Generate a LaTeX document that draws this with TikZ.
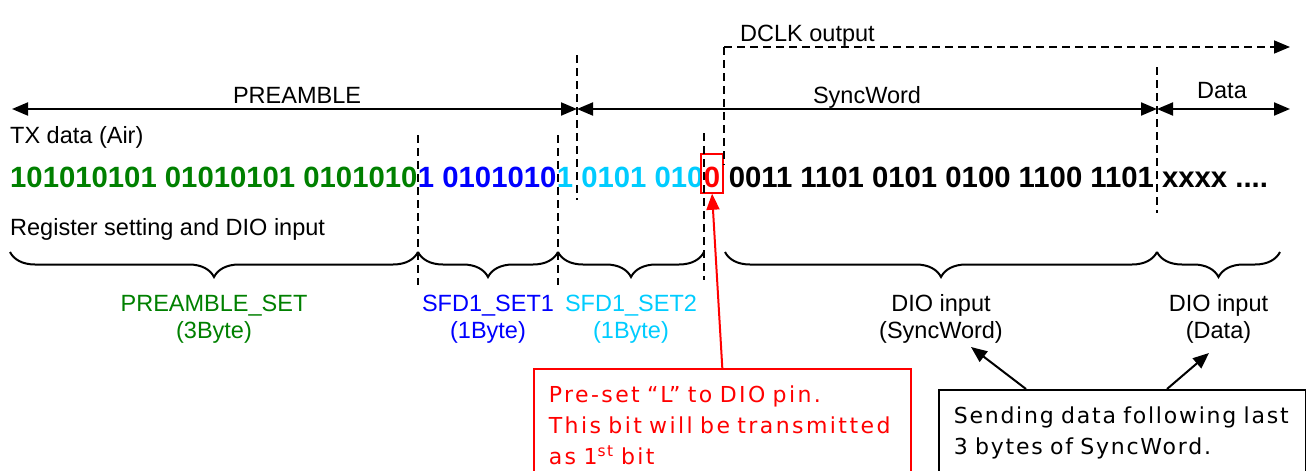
\documentclass[tikz,border=0pt]{standalone}
\usepackage{fontspec}
\setmainfont{Liberation Sans}
\newfontfamily\notefont[LetterSpace=8]{DejaVu Sans}
\usepackage{tikz}
\usetikzlibrary{arrows.meta,positioning,calc,decorations.pathreplacing}
\definecolor{pgreen}{HTML}{008000}
\definecolor{pblue}{HTML}{0000FF}
\definecolor{pcyan}{HTML}{00CCFF}
\definecolor{pred}{HTML}{FF0000}

\begin{document}
\begin{tikzpicture}[x=1pt,y=-1pt,>={Triangle[length=16pt,width=13pt]},
  lbl/.style={font=\fontsize{23.5}{27}\selectfont,inner sep=0pt,anchor=base,align=center},
  bits/.style={font=\fontsize{29.3}{32}\selectfont\bfseries,inner sep=0pt,anchor=base west},
  cut/.style={line width=1.6pt,dash pattern=on 8pt off 5pt},
  span/.style={<->,line width=2pt},
  brc/.style={decorate,decoration={brace,mirror,amplitude=25pt},line width=2pt},
  note/.style={font=\notefont\fontsize{22}{31}\selectfont,anchor=north west,align=left,
    text width=#1,inner xsep=15pt,inner ysep=17pt,line width=1.6pt}]
\useasboundingbox (0,0) rectangle (1306,471);
\clip (0,0) rectangle (1306,471);

% frame ruler on top
\coordinate (pl) at (12,109);
\coordinate (ps) at (577,109);
\coordinate (sd) at (1157,109);
\coordinate (dr) at (1290,109);
\coordinate (ck) at (724,47);
\coordinate (ckr) at (1290,47);
\draw[span] (pl)--(ps);
\draw[span] (ps)--(sd);
\draw[span] (sd)--(dr);
\draw[->,cut] (ck)--(ckr);
\node[lbl] (preLbl) at (297,103) {PREAMBLE};
\node[lbl] (syncLbl) at (867,103) {SyncWord};
\node[lbl] (dataLbl) at (1222,98) {Data};
\node[lbl,anchor=base west] (dclkLbl) at (740,41) {DCLK output};

% bit stream
\node[lbl,anchor=base west] (txLbl) at (10,143) {TX data (Air)};
\node[bits,text=pgreen] (pre) at (10,187) {101010101 01010101 0101010};
\node[bits,text=pblue] (sfd1) at (pre.base east) {1 0101010};
\node[bits,text=pcyan] (sfd2) at (sfd1.base east) {1 0101 010};
\node[bits,text=pred] (zero) at (sfd2.base east) {0};
\node[bits] (sync) at (zero.base east) {\ 0011 1101 0101 0100 1100 1101 xxxx ....};
\node[draw=pred,line width=1.5pt,minimum width=22pt,minimum height=39pt] (zbox)
  at ($(zero.base)+(0,-13.5)$) {};
\node[lbl,anchor=base west] (regLbl) at (10,235) {Register setting and DIO input};

% dashed borders
\draw[cut] (ck)--++(0,118);
\draw[cut] (577,55)--(577,200);
\draw[cut] (418,135)--(418,285);
\draw[cut] (558,135)--(558,285);
\draw[cut] (704,133)--(704,280);
\draw[cut] (1157,67)--(1157,213);

% braces
\coordinate (b0) at (10,252);
\coordinate (b1) at (418,252);
\coordinate (b2) at (558,252);
\coordinate (b3) at (704,252);
\coordinate (b4) at (725,252);
\coordinate (b5) at (1157,252);
\coordinate (b6) at (1280,252);
\draw[brc] (b0)--(b1);
\draw[brc] (b1)--(b2);
\draw[brc] (b2)--(b3);
\draw[brc] (b4)--(b5);
\draw[brc] (b5)--(b6);
\node[lbl,text=pgreen] (presetLbl) at ($(b0)!.5!(b1)+(0,86)$) {PREAMBLE\_SET\\(3Byte)};
\node[lbl,text=pblue] (set1Lbl) at ($(b1)!.5!(b2)+(0,86)$) {SFD1\_SET1\\(1Byte)};
\node[lbl,text=pcyan] (set2Lbl) at ($(b2)!.5!(b3)+(0,86)$) {SFD1\_SET2\\(1Byte)};
\node[lbl] (dioSync) at ($(b4)!.5!(b5)+(0,86)$) {DIO input\\(SyncWord)};
\node[lbl] (dioData) at ($(b5)!.5!(b6)+(0,86)$) {DIO input\\(Data)};

% notes
\node[note=347pt,draw=pred,text=pred] (preset) at (533,368)
  {\addfontfeature{LetterSpace=11}Pre-set “L” to DIO pin.\\This bit will be transmitted\\as 1\textsuperscript{st} bit\\\mbox{}};
\node[note=337pt,draw] (send) at (938,389)
  {Sending data following last\\3 bytes of SyncWord.\\\mbox{}};
\coordinate (syncTip) at (971,347);
\coordinate (dataTip) at (1209,353);
\draw[->,pred,line width=2pt] (preset.north)--(zbox.south);
\draw[->,line width=2pt] ($(send.north west)+(88,0)$)--(syncTip);
\draw[->,line width=2pt] ($(send.north west)+(229,0)$)--(dataTip);
\end{tikzpicture}
\end{document}
